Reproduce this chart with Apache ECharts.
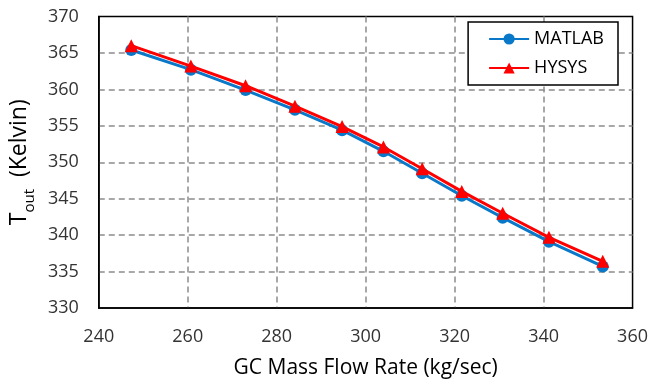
<!DOCTYPE html>
<html>
<head>
<meta charset="utf-8">
<script src="https://cdn.jsdelivr.net/npm/echarts@6/dist/echarts.min.js"></script>
<style>
  html, body { margin: 0; padding: 0; background: #fff; }
  #chart { width: 651px; height: 388px; }
</style>
</head>
<body>
<div id="chart"></div>
<script>
// GC mass flow rate (kg/sec)
const flowRate = [247.3, 260.7, 273.0, 284.1, 294.7, 304.0, 312.7, 321.6, 330.8, 341.2, 353.3]
// outlet temperature (K)
const matlabTout = [365.4, 362.7, 359.9, 357.2, 354.4, 351.5, 348.5, 345.4, 342.4, 339.1, 335.7]
const hysysTout = [366.0, 363.2, 360.5, 357.7, 354.9, 352.1, 349.1, 346.0, 343.0, 339.7, 336.4]

const font = "'Open Sans', 'DejaVu Sans', sans-serif"

const chart = echarts.init(document.getElementById('chart'))

const gridLine = {
  show: true,
  showMinLine: false,
  showMaxLine: false,
  lineStyle: { color: '#8c8c8c', width: 1.5, type: [6, 4] },
}

const option = {
  animation: false,
  grid: {
    left: 93,
    right: 18,
    top: 16.5,
    bottom: 80,
    show: true,
    borderColor: '#000',
    borderWidth: 1.5,
  },
  legend: {
    orient: 'vertical',
    right: 33,
    top: 22,
    padding: [8, 14, 8, 20],
    itemGap: 11,
    itemWidth: 40,
    itemHeight: 14,
    backgroundColor: '#fff',
    borderColor: '#000',
    borderWidth: 1.5,
    borderRadius: 0,
    textStyle: { fontFamily: font, fontSize: 18, color: '#000' },
    data: ['MATLAB', 'HYSYS'],
  },
  xAxis: {
    type: 'value',
    min: 240,
    max: 360,
    interval: 20,
    name: 'GC Mass Flow Rate (kg/sec)',
    nameLocation: 'middle',
    nameGap: 50,
    nameTextStyle: { fontFamily: font, fontSize: 21, color: '#000' },
    axisLine: { lineStyle: { color: '#000', width: 1.5 } },
    axisTick: { show: false },
    axisLabel: { margin: 20, fontFamily: font, fontSize: 18, color: '#333' },
    splitLine: gridLine,
  },
  yAxis: {
    type: 'value',
    min: 330,
    max: 370,
    interval: 5,
    name: '{t|T}{s|out}{t|  (Kelvin)}',
    nameLocation: 'middle',
    nameGap: 58,
    nameTextStyle: {
      fontFamily: font,
      color: '#000',
      rich: {
        t: { fontFamily: font, fontSize: 23, color: '#000' },
        s: { fontFamily: font, fontSize: 15, color: '#000', verticalAlign: 'bottom', padding: [0, 0, -6, 0] },
      },
    },
    axisLine: { show: true, lineStyle: { color: '#000', width: 1.5 } },
    axisTick: { show: false },
    axisLabel: { margin: 20, fontFamily: font, fontSize: 18, color: '#333' },
    splitLine: gridLine,
  },
  series: [
    {
      name: 'MATLAB',
      type: 'line',
      data: flowRate.map((x, i) => [x, matlabTout[i]]),
      symbol: 'circle',
      symbolSize: 12,
      lineStyle: { color: '#0a78c8', width: 3 },
      itemStyle: { color: '#0a78c8' },
      z: 2,
    },
    {
      name: 'HYSYS',
      type: 'line',
      data: flowRate.map((x, i) => [x, hysysTout[i]]),
      symbol: 'triangle',
      symbolSize: 13,
      lineStyle: { color: '#ff0000', width: 3 },
      itemStyle: { color: '#ff0000' },
      z: 3,
    },
  ],
}

chart.setOption(option)
</script>
</body>
</html>
